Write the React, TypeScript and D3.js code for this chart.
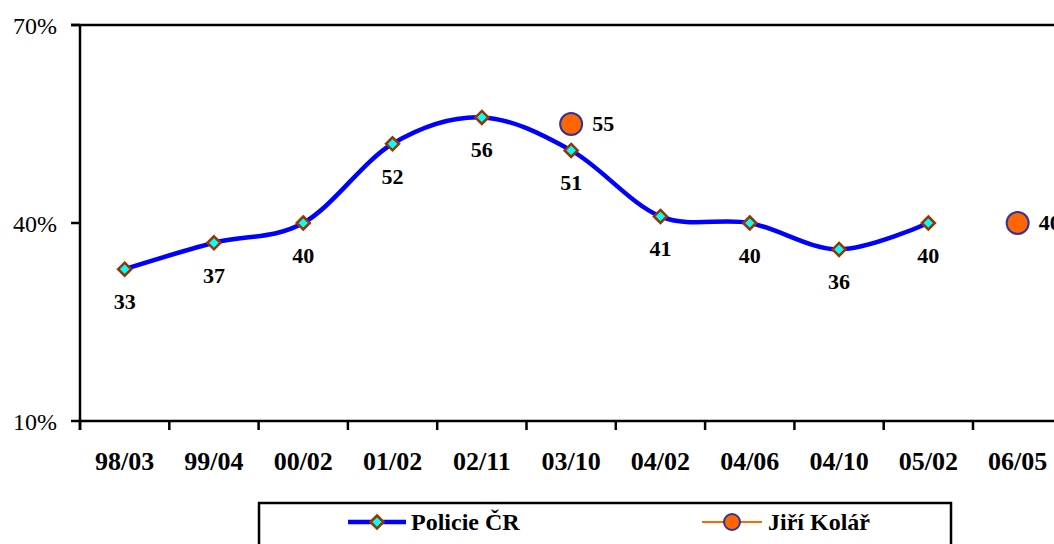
import React from "react";
import * as d3 from "d3";

const categories = ["98/03", "99/04", "00/02", "01/02", "02/11", "03/10", "04/02", "04/06", "04/10", "05/02", "06/05"];
const policieValues: (number | null)[] = [33, 37, 40, 52, 56, 51, 41, 40, 36, 40, null];
const kolarValues: (number | null)[] = [null, null, null, null, null, 55, null, null, null, null, 40];
const yTicks = [10, 40, 70];
const seriesNames = ["Policie ČR", "Jiří Kolář"];

const W = 1054;
const H = 544;
const left = 80;
const top = 25;
const bottom = 421;
const bandW = 89.3;

export default function App() {
  const x = d3.scaleBand<string>().domain(categories).range([left, left + bandW * categories.length]);
  const cx = (c: string) => (x(c) as number) + x.bandwidth() / 2;
  const y = d3.scaleLinear().domain([10, 70]).range([bottom, top]);

  const pts = categories
    .map((c, i) => ({ c, v: policieValues[i] }))
    .filter((d) => d.v != null) as { c: string; v: number }[];
  const line = d3
    .line<{ c: string; v: number }>()
    .x((d) => cx(d.c))
    .y((d) => y(d.v))
    .curve(d3.curveCardinal.tension(0));

  const kpts = categories
    .map((c, i) => ({ c, v: kolarValues[i] }))
    .filter((d) => d.v != null) as { c: string; v: number }[];

  const diamond = (px: number, py: number, r: number) =>
    `M${px},${py - r}L${px + r},${py}L${px},${py + r}L${px - r},${py}Z`;

  const tickBounds = d3.range(categories.length + 1).map((i) => left + i * bandW);
  const ts = { fontFamily: "Liberation Serif" } as React.CSSProperties;

  return (
    <svg width={W} height={H} style={{ position: "absolute", left: 0, top: 0 }}>
      <rect x={0} y={0} width={W} height={H} fill="#fff" />
      {/* top border */}
      <line x1={71} x2={W + 10} y1={top} y2={top} stroke="#000" strokeWidth={2.5} />
      {/* y axis */}
      <line x1={left} x2={left} y1={top} y2={bottom + 9} stroke="#000" strokeWidth={2.5} />
      {yTicks.map((t) => (
        <g key={t}>
          <line x1={71} x2={left} y1={y(t)} y2={y(t)} stroke="#000" strokeWidth={2.5} />
          <text x={57} y={y(t) + 9} textAnchor="end" fontSize={24} style={ts}>
            {t}%
          </text>
        </g>
      ))}
      {/* x axis */}
      <line x1={left} x2={W + 10} y1={bottom} y2={bottom} stroke="#000" strokeWidth={2.5} />
      {tickBounds.map((tx, i) => (
        <line key={i} x1={tx} x2={tx} y1={bottom} y2={bottom + 9} stroke="#000" strokeWidth={2.5} />
      ))}
      {categories.map((c) => (
        <text key={c} x={cx(c)} y={470} textAnchor="middle" fontSize={26} fontWeight="bold" style={ts}>
          {c}
        </text>
      ))}
      {/* Policie line */}
      <path d={line(pts) || ""} fill="none" stroke="#0000FF" strokeWidth={4.5} />
      {pts.map((d) => (
        <g key={d.c}>
          <path d={diamond(cx(d.c), y(d.v), 6.5)} fill="#00FFFF" stroke="#993300" strokeWidth={2.5} />
          <text x={cx(d.c)} y={y(d.v) + 40} textAnchor="middle" fontSize={22} fontWeight="bold" style={ts}>
            {d.v}
          </text>
        </g>
      ))}
      {/* Kolar points */}
      {kpts.map((d) => (
        <g key={d.c}>
          <circle cx={cx(d.c)} cy={y(d.v)} r={11} fill="#FF6600" stroke="#333399" strokeWidth={2} />
          <text x={cx(d.c) + 21} y={y(d.v) + 7} fontSize={22} fontWeight="bold" style={ts}>
            {d.v}
          </text>
        </g>
      ))}
      {/* legend */}
      <rect x={259} y={503} width={692} height={60} fill="#fff" stroke="#000" strokeWidth={2.5} />
      <line x1={348} x2={406} y1={522} y2={522} stroke="#0000FF" strokeWidth={4.5} />
      <path d={diamond(377, 522, 6.5)} fill="#00FFFF" stroke="#993300" strokeWidth={2.5} />
      <text x={411} y={530} fontSize={24} fontWeight="bold" style={ts}>
        {seriesNames[0]}
      </text>
      <line x1={702} x2={762} y1={522} y2={522} stroke="#FF6600" strokeWidth={2} />
      <circle cx={732} cy={522} r={8} fill="#FF6600" stroke="#333399" strokeWidth={2} />
      <text x={768} y={530} fontSize={24} fontWeight="bold" style={ts}>
        {seriesNames[1]}
      </text>
    </svg>
  );
}
